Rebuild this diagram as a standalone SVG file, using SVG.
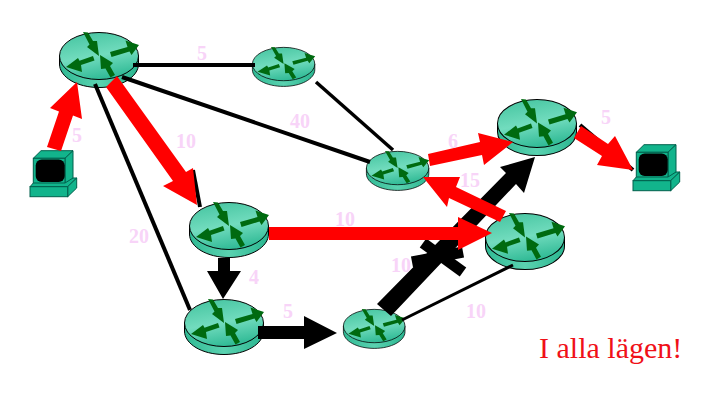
<svg xmlns="http://www.w3.org/2000/svg" xmlns:xlink="http://www.w3.org/1999/xlink" width="718" height="412" viewBox="0 0 718 412">
<style>
.lbl{font-family:"Liberation Serif","Times New Roman",serif;font-size:20px;font-weight:bold;fill:#f8d4f8;text-anchor:middle}
.title{font-family:"Liberation Serif","Times New Roman",serif;font-size:30px;fill:#f01018}
.lnk{stroke:#000;fill:none}
.red{fill:#ff0000}
.blk{fill:#000}
.ga{fill:#006a10;stroke:none}
.pc{stroke:#00604c;stroke-width:1;fill:#12b48c}
</style>
<defs>
<linearGradient id="top" x1="0.3" y1="0" x2="0.6" y2="1">
<stop offset="0" stop-color="#48c6a2"/><stop offset="0.5" stop-color="#72dcbe"/><stop offset="1" stop-color="#2cb893"/>
</linearGradient>
<linearGradient id="side" x1="0" y1="0" x2="1" y2="0">
<stop offset="0" stop-color="#30ba94"/><stop offset="0.5" stop-color="#5ad2b0"/><stop offset="1" stop-color="#2ab690"/>
</linearGradient>
<g id="router">
<path d="M0.500 24V32C0.500 45 18 55.500 40 55.500S79.500 45 79.500 32V24Z" fill="url(#side)" stroke="#000" stroke-width="1"/>
<ellipse cx="40" cy="24" rx="39.500" ry="23.500" fill="url(#top)" stroke="#000" stroke-width="1"/>
<path class="ga" d="M7 35 19 26 20.500 28.800 34 24 35.500 28.500 22 33 23 40Z"/>
<path class="ga" d="M80 13 72.500 23 70.500 19.500 52.500 25 51 20 68.500 15 66.500 8.500Z"/>
<path class="ga" d="M24 0 29 0.500 34 9 38 9 40 24 28 15 30.500 12.500Z"/>
<path class="ga" d="M41 23 54 31 51 34 56 43 51.500 45.500 46.500 36.500 42 37Z"/>
</g>
<g id="computer">
<path class="pc" d="M3.300 8.300 11 0.700H43L35 8.300Z"/>
<path class="pc" d="M35 8.300 43 0.700V29L35 36Z"/>
<rect class="pc" x="3.300" y="8.300" width="31.700" height="28.400"/>
<rect x="5.700" y="9.500" width="29" height="22.500" rx="6" fill="#000"/>
<path class="pc" d="M0 36.700 3.300 33H35L43 28 46.700 28 37.700 36.700Z"/>
<path class="pc" d="M37.700 36.700 46.700 28V38L37.700 46.700Z"/>
<rect class="pc" x="0" y="36.700" width="37.700" height="10"/>
</g>
</defs>
<g id="router-1"><use xlink:href="#router" href="#router" transform="translate(59 32)"/></g>
<g id="router-2"><use xlink:href="#router" href="#router" transform="translate(252 47) scale(0.79 0.71)"/></g>
<g id="router-3"><use xlink:href="#router" href="#router" transform="translate(366 151) scale(0.79 0.71)"/></g>
<g id="router-4"><use xlink:href="#router" href="#router" transform="translate(497 99) scale(1 1.02)"/></g>
<g id="router-5"><use xlink:href="#router" href="#router" transform="translate(485 213) scale(1 1.02)"/></g>
<g id="router-6"><use xlink:href="#router" href="#router" transform="translate(189 202)"/></g>
<g id="router-7"><use xlink:href="#router" href="#router" transform="translate(184 299)"/></g>
<g id="router-8"><use xlink:href="#router" href="#router" transform="translate(343 309) scale(0.78 0.71)"/></g>
<g id="computer-1"><use xlink:href="#computer" href="#computer" transform="translate(30 150)"/></g>
<g id="computer-2"><use xlink:href="#computer" href="#computer" transform="translate(633 144)"/></g>
<g id="connectors">
<line class="lnk" stroke-width="4" x1="133" y1="65" x2="255" y2="65"/>
<line class="lnk" stroke-width="4" x1="122" y1="77" x2="370" y2="162"/>
<line class="lnk" stroke-width="4" x1="95" y1="84" x2="190" y2="310"/>
<line class="lnk" stroke-width="3.500" x1="316" y1="82" x2="393" y2="150"/>
<line class="lnk" stroke-width="3" x1="402" y1="320" x2="513" y2="265"/>
<line class="lnk" stroke-width="4" x1="193" y1="170" x2="200" y2="207"/>
<line class="lnk" stroke-width="4" x1="580" y1="125" x2="633" y2="170"/>
<path class="blk" d="M377 304 506 173 500 167 535 157 524 193 516 184 391 316Z"/>
<path class="blk" d="M218 258H230V271H241L223 299 207 271H218Z"/>
<path class="blk" d="M258 326H304V316L337 333 304 349V339H258Z"/>
<line class="lnk" stroke-width="11" x1="423" y1="243" x2="463" y2="272"/>
<line class="lnk" stroke-width="11" x1="412" y1="262" x2="463" y2="252"/>
</g>
<g id="red-arrows">
<path class="red" d="M47 147 59 111.500 50 108 77 82 82 119 73 115.500 61 151Z"/>
<path class="red" d="M106 87 173 181 163 186 197 205 193 168 186 172 117 76Z"/>
<path class="red" d="M269 227H458V217L492 233 458 250V240H269Z"/>
<path class="red" d="M428 154 480 142 478 133 513 142 484 165 482 155 430 166Z"/>
<path class="red" d="M506 211 456 187 460 177H423L447 207 449 198 500 222Z"/>
<path class="red" d="M581 126 608 144 615 136 633 170 597 165 602 156 574 138Z"/>
</g>
<g id="labels">
<text class="lbl" x="202" y="60">5</text>
<text class="lbl" x="77" y="142">5</text>
<text class="lbl" x="186" y="148">10</text>
<text class="lbl" x="300" y="128">40</text>
<text class="lbl" x="139" y="243">20</text>
<text class="lbl" x="453" y="148">6</text>
<text class="lbl" x="606" y="124">5</text>
<text class="lbl" x="470" y="187">15</text>
<text class="lbl" x="345" y="226">10</text>
<text class="lbl" x="401" y="272">10</text>
<text class="lbl" x="254" y="284">4</text>
<text class="lbl" x="288" y="318">5</text>
<text class="lbl" x="476" y="318">10</text>
<text class="title" x="539" y="358">I alla lägen!</text>
</g>
</svg>
